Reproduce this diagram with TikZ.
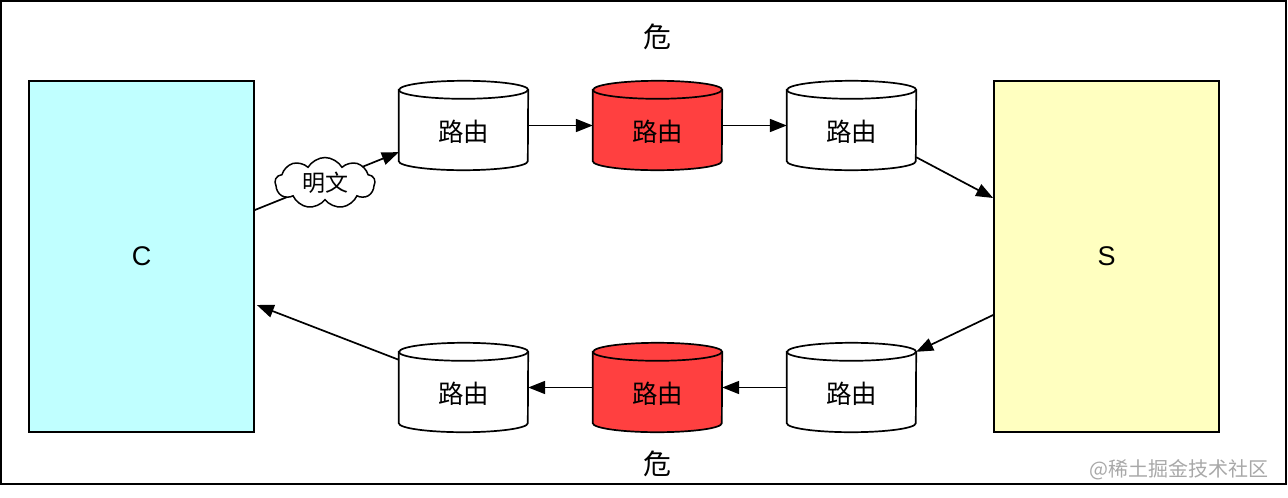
\documentclass[tikz,border=0pt]{standalone}
\usepackage{fontspec}
\setmainfont{Liberation Sans}
\newfontfamily\cjk{Noto Sans CJK SC}
\usetikzlibrary{calc,backgrounds,shapes.symbols,arrows.meta}
\definecolor{cfill}{HTML}{C0FFFF}
\definecolor{sfill}{HTML}{FFFFC0}
\definecolor{routered}{HTML}{FF4040}
\definecolor{wm}{HTML}{A8A8A8}
\newcommand\lowtext[1]{\raisebox{-16pt}[0pt][0pt]{#1}}
\tikzset{
  box/.style={draw, line width=1.7pt, minimum width=225pt, minimum height=351pt, inner sep=0pt, font=\fontsize{27}{30}\selectfont},
  router/.style={minimum width=129pt, minimum height=89pt, inner sep=0pt, font=\cjk\fontsize{25.5}{28}\selectfont},
  cylline/.style={line width=1.7pt},
  conn/.style={line width=1.7pt, -{Triangle[length=17pt,width=13pt]}},
  danger/.style={font=\cjk\fontsize{28}{30}\selectfont, inner sep=0pt},
}
\begin{document}
\begin{tikzpicture}[x=1pt,y=1pt]
\useasboundingbox (0,0) rectangle (1288,-498);
\draw[line width=1.7pt] (1,-1) rectangle (1286,-484);
\node[box, fill=cfill] (C) at (141.5,-256.5) {C};
\node[box, fill=sfill] (S) at (1106.5,-256.5) {S};
\node[router] (t1) at (463.5,-125.5) {\lowtext{路由}};
\node[router] (t2) at (657.5,-125.5) {\lowtext{路由}};
\node[router] (t3) at (851.5,-125.5) {\lowtext{路由}};
\node[router] (b1) at (463.5,-387.5) {\lowtext{路由}};
\node[router] (b2) at (657.5,-387.5) {\lowtext{路由}};
\node[router] (b3) at (851.5,-387.5) {\lowtext{路由}};
\begin{scope}[on background layer]
\foreach \n/\c in {t1/white,t2/routered,t3/white,b1/white,b2/routered,b3/white}{
  \draw[cylline, fill=\c] ($(\n.north west)+(0,-9)$) -- ($(\n.south west)+(0,9)$)
    arc[start angle=180,end angle=360,x radius=64.5pt,y radius=9pt]
    -- ($(\n.north east)+(0,-9)$)
    arc[start angle=0,end angle=180,x radius=64.5pt,y radius=9pt] -- cycle;
  \draw[cylline] ($(\n.north west)+(0,-9)$)
    arc[start angle=180,end angle=360,x radius=64.5pt,y radius=9pt];
}
\end{scope}
\draw[conn] ($(C.east)+(0,46.5)$) -- ($(t1.south west)+(0,18)$);
\node[cloud, draw, fill=white, line width=1.5pt, cloud puffs=9, cloud puff arc=120, aspect=2.2, minimum width=100pt, minimum height=51pt, inner sep=0pt, font=\cjk\fontsize{23}{26}\selectfont] (m) at (325,-183) {明文};
\draw[conn] (t1.east) -- (t2.west);
\draw[conn] (t2.east) -- (t3.west);
\draw[conn] ($(t3.south east)+(0,13)$) -- ($(S.west)+(0,58.5)$);
\draw[conn] ($(S.west)+(0,-58.5)$) -- ($(b3.north east)+(0,-9)$);
\draw[conn] (b3.west) -- (b2.east);
\draw[conn] (b2.west) -- (b1.east);
\draw[conn] ($(b1.north west)+(0,-17)$) -- ($(C.east)+(2,-48.5)$);
\node[danger] (d1) at (657,-37) {危};
\node[danger] (d2) at (657,-464) {危};
\node[font=\cjk\fontsize{20}{22}\selectfont, text=wm, inner sep=0pt] (wmk) at (1179,-470) {@稀土掘金技术社区};
\end{tikzpicture}
\end{document}
